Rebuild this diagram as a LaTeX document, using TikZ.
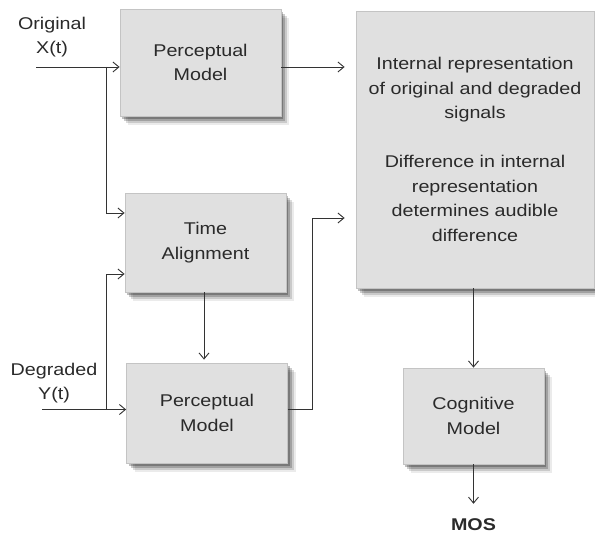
\documentclass[tikz,border=0pt]{standalone}
\usepackage{fontspec}
\setmainfont{Liberation Sans}[FakeStretch=1.16]
\usetikzlibrary{arrows.meta,shadows,calc}
\definecolor{boxfill}{HTML}{E0E0E0}
\definecolor{boxline}{HTML}{C4C4C4}
\definecolor{txt}{HTML}{2A2A2A}
\definecolor{wire}{HTML}{333333}
\begin{document}
\begin{tikzpicture}[x=1pt,y=-1pt,
  shadowy/.style={
    drop shadow={shadow xshift=2pt,shadow yshift=-3pt,opacity=.25,fill=black},
    drop shadow={shadow xshift=4pt,shadow yshift=-5pt,opacity=.20,fill=black},
    drop shadow={shadow xshift=6pt,shadow yshift=-7pt,opacity=.14,fill=black},
    drop shadow={shadow xshift=8pt,shadow yshift=-9pt,opacity=.08,fill=black}},
  blk/.style={shadowy, draw=boxline, fill=boxfill, line width=0.8pt, inner sep=0pt,
    align=center, text=txt, font=\fontsize{17}{24.5}\selectfont},
  lbl/.style={align=center, text=txt, inner sep=0pt, font=\fontsize{17}{24.5}\selectfont},
  wirestyle/.style={draw=wire, line width=0.9pt},
  arr/.style={wirestyle, -{Straight Barb[length=6pt,width=10pt,line width=0.9pt]}}
]
\useasboundingbox (0,0) rectangle (595,537);

% boxes
\node[blk, minimum width=161pt, minimum height=107pt] (pm1) at (200.5,62.5) {Perceptual\\Model};
\node[blk, minimum width=161pt, minimum height=99pt] (ta) at (205.5,242.5) {Time\\Alignment};
\node[blk, minimum width=161pt, minimum height=100pt] (pm2) at (207,413) {Perceptual\\Model};
\node[blk, minimum width=238pt, minimum height=277pt] (big) at (475,149.5)
  {Internal representation\\of original and degraded\\signals\\[24.5pt]Difference in internal\\representation\\determines audible\\difference};
\node[blk, minimum width=141pt, minimum height=96pt] (cog) at (473.5,416) {Cognitive\\Model};

% labels
\node[lbl] (orig) at (52,37) {Original\\X(t)};
\node[lbl] (degr) at (54,383) {Degraded\\Y(t)};
\node[lbl, font=\fontsize{17}{20}\selectfont\bfseries] (mos) at (473.5,525) {MOS};

% input points and branch points
\coordinate (xin) at (36,67);
\coordinate (xb) at (106,67);
\coordinate (yin) at (42,409.5);
\coordinate (yb) at (106,409.5);
\coordinate (pmout) at (312,409.5);
\coordinate (p1o) at ($(pm1.east)+(0,4.5)$);
\coordinate (p2o) at ($(pm2.east)+(0,-3.5)$);
\coordinate (bigin2) at ($(big.west)+(0,68.5)$);

% original path
\draw[arr] (xin) -- ($(pm1.west)+(0,4.5)$);
\draw[arr] (xb) |- ($(ta.west)+(0,-29.5)$);
% degraded path
\draw[arr] (yin) -- ($(pm2.west)+(0,-3.5)$);
\draw[arr] (yb) |- ($(ta.west)+(0,31.5)$);
% time alignment to perceptual model
\draw[arr, shorten >=3pt] (ta.south -| 204,0) -- (pm2.north -| 204,0);
% perceptual models to internal representation
\draw[arr, shorten >=11pt] (p1o) -- (p1o -| big.west);
\draw[arr, shorten >=11pt] (p2o) -- (pmout) |- (bigin2);
% internal representation to cognitive model
\draw[arr] (cog.north |- big.south) -- (cog.north);
\draw[arr, shorten >=15pt] (cog.south) -- (mos.north);
\end{tikzpicture}
\end{document}
